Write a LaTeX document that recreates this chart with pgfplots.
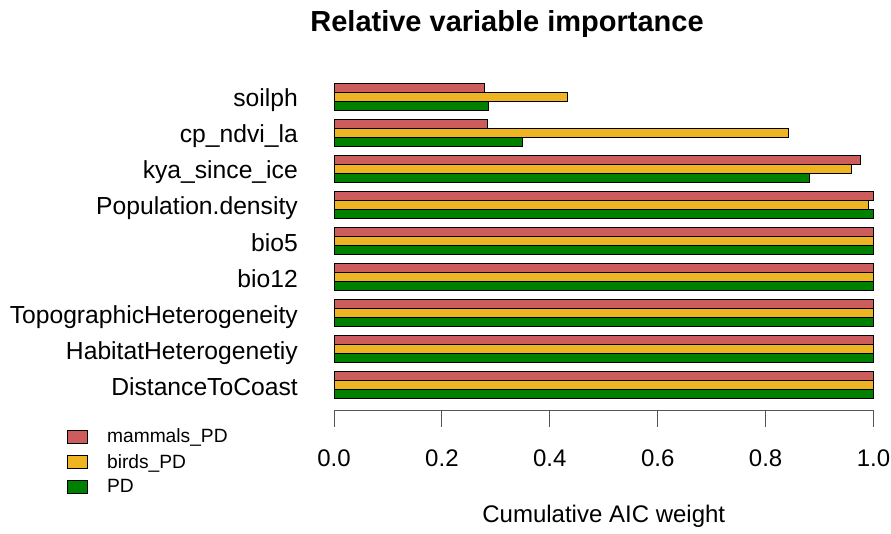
\documentclass[border=0pt]{standalone}
\usepackage{fontspec}
\setmainfont{Liberation Sans}
\usepackage{pgfplots}
\pgfplotsset{compat=1.18}
\definecolor{cmam}{HTML}{CD5C5C}
\definecolor{cbird}{HTML}{EEB422}
\definecolor{cpd}{HTML}{008000}
\definecolor{caxis}{HTML}{555555}
\pgfplotsset{mybox/.style={legend image code/.code={\draw[##1,line width=0.75pt] (0pt,-4.9pt) rectangle (14.6pt,4.9pt);}}}
\begin{document}
\begin{tikzpicture}
\begin{axis}[
  name=ax,
  scale only axis, width=404.6pt, height=254.6pt,
  xbar, bar width=0.25,
  xmin=0, xmax=1, ymin=-0.704, ymax=8.704,
  clip=false,
  axis x line*=bottom, axis y line*=left,
  y axis line style={draw=none},
  x axis line style={-, line width=0.75pt, color=caxis},
  xtick={0,0.2,0.4,0.6,0.8,1},
  xticklabels={0.0,0.2,0.4,0.6,0.8,1.0},
  xtick style={line width=0.75pt, color=caxis},
  xtick align=outside,
  major tick length=12pt,
  ytick={0,1,2,3,4,5,6,7,8},
  yticklabels={DistanceToCoast,HabitatHeterogenetiy,TopographicHeterogeneity,bio12,bio5,Population.density,kya\_since\_ice,cp\_ndvi\_la,soilph},
  ytick style={draw=none},
  yticklabel style={anchor=base east, inner sep=0pt, xshift=-15pt, yshift=-7.5pt, font=\fontsize{18.5}{21}\selectfont},
  xticklabel style={anchor=base, inner sep=0pt, yshift=-30pt, font=\fontsize{18}{21}\selectfont},
  /pgf/number format/assume math mode=true,
  title={Relative variable importance},
  title style={at={(axis description cs:0.3207,1.093)}, anchor=base, font=\bfseries\fontsize{21.75}{26}\selectfont},
  xlabel={Cumulative AIC weight},
  xlabel style={at={(axis description cs:0.5,-0.31)}, anchor=center, font=\fontsize{18}{21}\selectfont},
  legend style={at={(axis description cs:-0.4949,-0.045)}, anchor=north west, draw=none, fill=none, inner sep=0pt,
    font=\fontsize{14.4}{17}\selectfont, row sep=3pt,
    /tikz/every odd column/.append style={column sep=12.5pt}},
  legend cell align=left,
]
\addplot[xbar, bar shift=0.25, fill=cmam, draw=black, line width=0.75pt, mybox]
  coordinates {(1,0) (1,1) (1,2) (1,3) (1,4) (1,5) (0.976,6) (0.284,7) (0.279,8)};
\addplot[xbar, bar shift=0, fill=cbird, draw=black, line width=0.75pt, mybox]
  coordinates {(1,0) (1,1) (1,2) (1,3) (1,4) (0.990,5) (0.959,6) (0.842,7) (0.433,8)};
\addplot[xbar, bar shift=-0.25, fill=cpd, draw=black, line width=0.75pt, mybox]
  coordinates {(1,0) (1,1) (1,2) (1,3) (1,4) (1,5) (0.882,6) (0.350,7) (0.287,8)};
\legend{mammals\_PD, birds\_PD, PD}
\end{axis}
\pgfresetboundingbox
\path ([shift={(-250.5pt,-91.7pt)}]ax.south west) rectangle ([shift={(13.1pt,53.5pt)}]ax.north east);
\end{tikzpicture}
\end{document}
